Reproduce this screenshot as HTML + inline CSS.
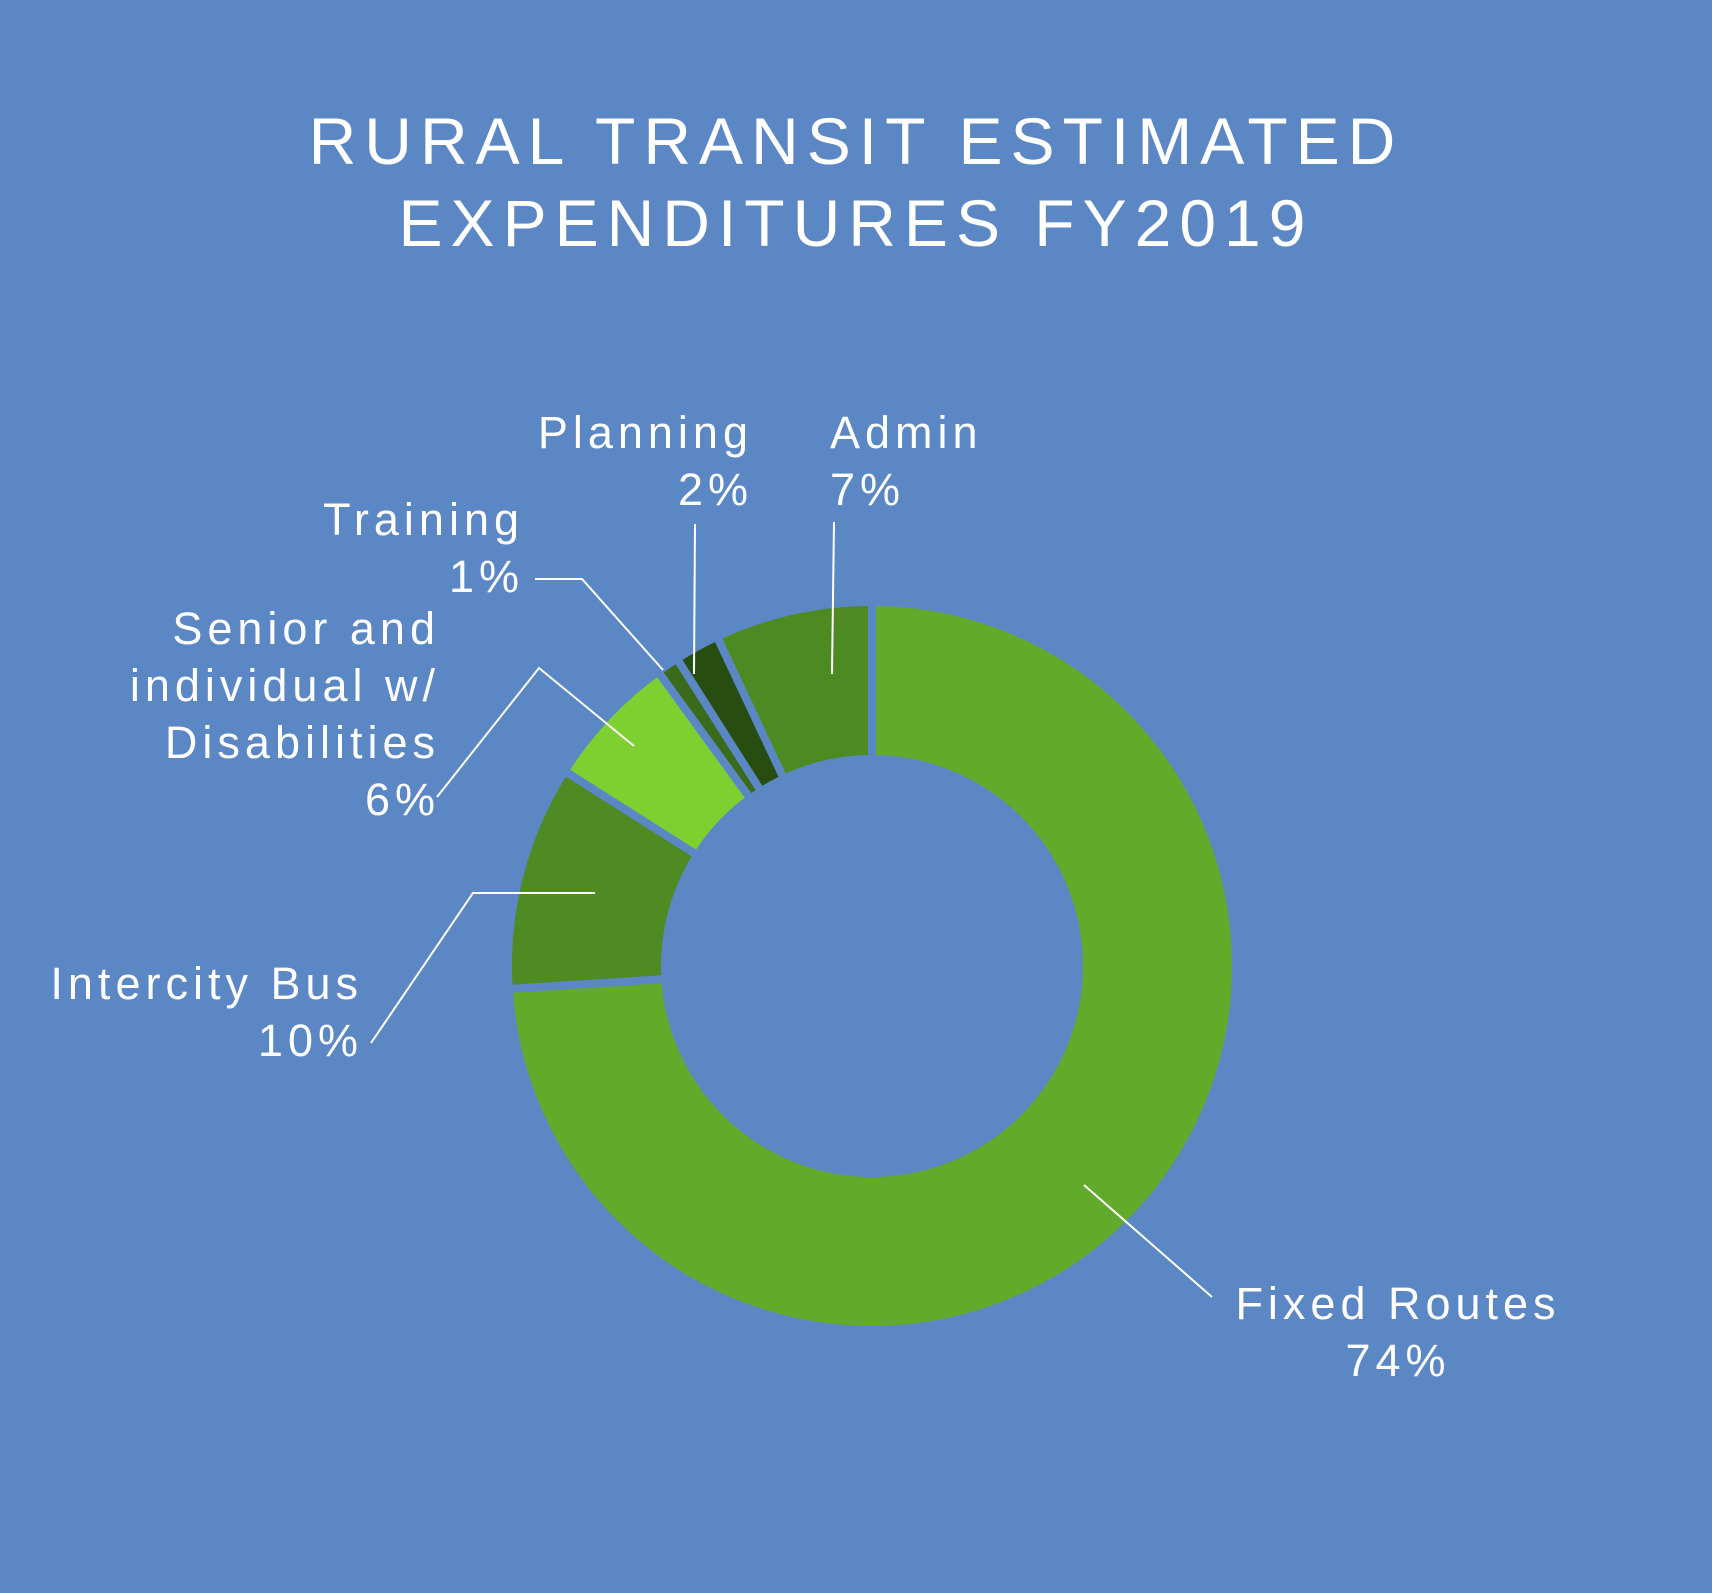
<!DOCTYPE html>
<html><head><meta charset="utf-8"><style>
html,body{margin:0;padding:0;background:#5b87c5;}
svg{display:block;}
text{font-family:"Liberation Sans",sans-serif;fill:#fff;}
</style></head><body>
<svg id="chart" width="1712" height="1593" viewBox="0 0 1712 1593">
<rect width="1712" height="1593" fill="#5b87c5"/>
<text x="856" y="164" font-size="66" text-anchor="middle" letter-spacing="8">RURAL TRANSIT ESTIMATED</text>
<text x="856" y="246" font-size="66" text-anchor="middle" letter-spacing="8">EXPENDITURES FY2019</text>
<g id="slices"></g>
<g id="labels"></g>
</svg>
<script>
const categories = ["Fixed Routes","Intercity Bus","Senior and individual w/ Disabilities","Training","Planning","Admin"];
const values = [74,10,6,1,2,7];
const valueLabels = ["74%","10%","6%","1%","2%","7%"];
const colors = ["#62aa2a","#4f8a22","#7ed031","#3a6b1a","#274d10","#4e8a22"];
const cx=872, cy=966, R=364, r=207, gap=4;
const NS="http://www.w3.org/2000/svg";
const total = values.reduce((a,b)=>a+b,0);
function angle(v){return v/total*2*Math.PI;}
function pt(a,rad){return [cx+rad*Math.sin(a), cy-rad*Math.cos(a)];}
const g=document.getElementById('slices');
let acc=0;
values.forEach((v,i)=>{
  const a0=angle(acc), a1=angle(acc+v); acc+=v;
  const p=document.createElementNS(NS,'path');
  const large=(a1-a0)>Math.PI?1:0;
  const o0=pt(a0,R),o1=pt(a1,R),i1=pt(a1,r),i0=pt(a0,r);
  p.setAttribute('d',`M${o0}A${R},${R} 0 ${large} 1 ${o1}L${i1}A${r},${r} 0 ${large} 0 ${i0}Z`);
  p.setAttribute('fill',colors[i]);
  p.setAttribute('stroke','#5b87c5');
  p.setAttribute('stroke-width',gap*2);
  p.setAttribute('stroke-linejoin','miter');
  
  
  g.appendChild(p);
});
const L=document.getElementById('labels');
const labelDefs=[
 {lines:["Fixed Routes"],x:1398,y:1319,anchor:"middle",line:[[1212,1297],[1084,1185]]},
 {lines:["Intercity Bus"],x:358,y:999,anchor:"end",line:[[371,1043],[473,893],[595,893]]},
 {lines:["Senior and","individual w/","Disabilities"],x:435,y:644,anchor:"end",line:[[437,797],[539,668],[634,746]]},
 {lines:["Training"],x:519,y:535,anchor:"end",line:[[535,579],[582,579],[663,670]]},
 {lines:["Planning"],x:748,y:448,anchor:"end",line:[[695,524],[694,674]]},
 {lines:["Admin"],x:830,y:448,anchor:"start",line:[[834,522],[832,674]]}
];
labelDefs.forEach((d,i)=>{
  const all=d.lines.concat([valueLabels[i]]);
  const t=document.createElementNS(NS,'text');
  
  
  t.setAttribute('font-size','45');
  t.setAttribute('letter-spacing','5');
  t.setAttribute('text-anchor',d.anchor);
  all.forEach((s,j)=>{
    const ts=document.createElementNS(NS,'tspan');
    ts.setAttribute('x',d.anchor==='end'?d.x+5:d.x);
    ts.setAttribute('y',d.y+j*57);
    ts.textContent=s;
    t.appendChild(ts);
  });
  L.appendChild(t);
  const pl=document.createElementNS(NS,'polyline');
  pl.setAttribute('points',d.line.map(p=>p.join(',')).join(' '));
  pl.setAttribute('fill','none');
  pl.setAttribute('stroke','#fff');
  pl.setAttribute('stroke-width','2');
  
  
  L.appendChild(pl);
});
</script>
</body></html>
